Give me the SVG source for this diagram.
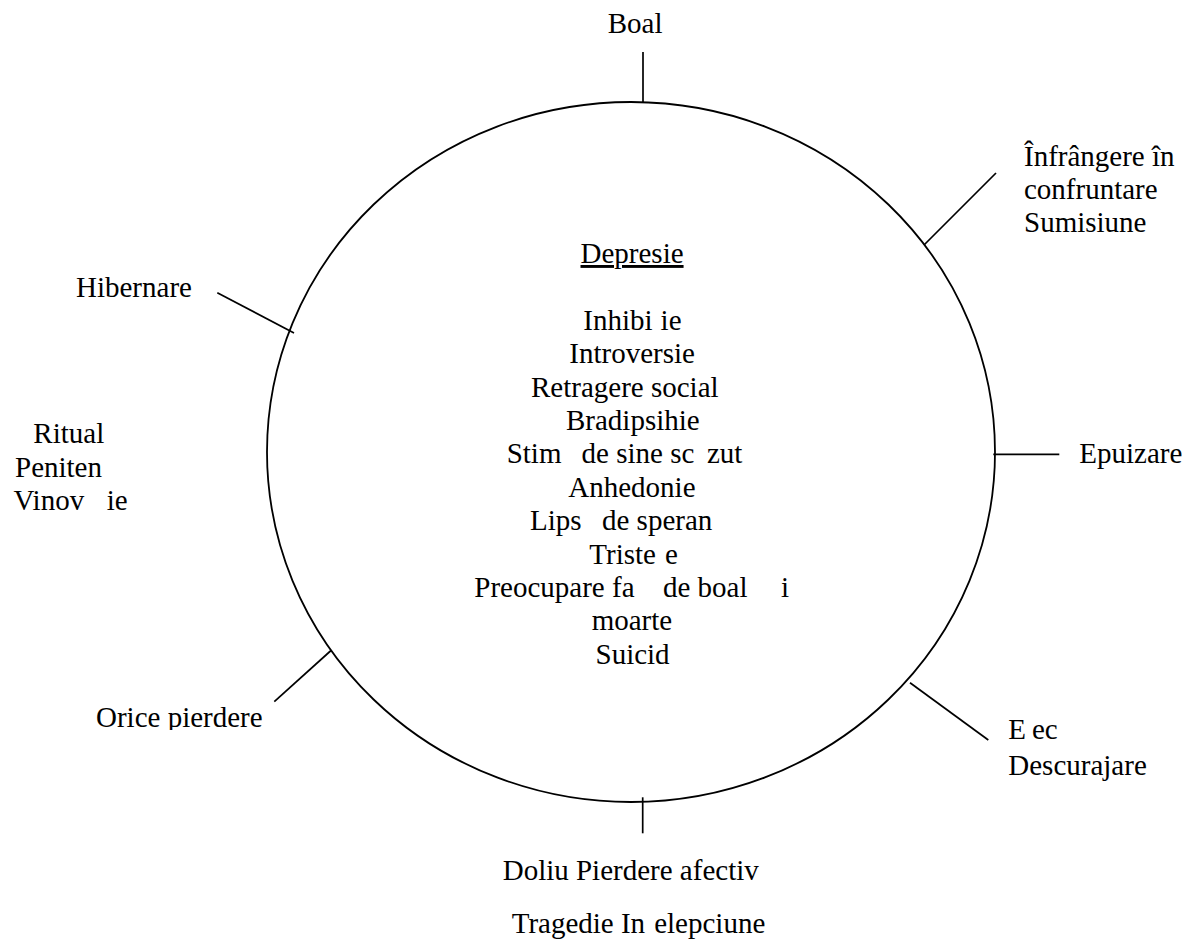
<svg xmlns="http://www.w3.org/2000/svg" width="1198" height="940" viewBox="0 0 1198 940">
  <style>
    .lbl { font-family: 'Liberation Serif', 'Times New Roman', serif; font-size: 29px; fill: #000; }
    .ring { fill: none; stroke: #000; stroke-width: 1.8; }
    .tick { stroke: #000; stroke-width: 1.7; fill: none; }
  </style>
  <defs>
    <clipPath id="clip-orice">
      <rect x="0" y="690" width="400" height="40"/>
    </clipPath>
  </defs>
  <rect width="1198" height="940" fill="#fff"/>

  <!-- central ring with the list of symptoms -->
  <g id="depresie">
    <ellipse class="ring" cx="631" cy="452" rx="364" ry="350"/>
    <text class="lbl" x="580.5" y="263" text-decoration="underline">Depresie</text>
    <text class="lbl" x="583.3" y="330">Inhibi<tspan x="660.6">ie</tspan></text>
    <text class="lbl" x="569.3" y="363.3">Introversie</text>
    <text class="lbl" x="531" y="396.6">Retragere social</text>
    <text class="lbl" x="566" y="430">Bradipsihie</text>
    <text class="lbl" x="506.7" y="463.4">Stim<tspan x="581.6">de sine sc</tspan><tspan x="707">zut</tspan></text>
    <text class="lbl" x="568.3" y="496.8">Anhedonie</text>
    <text class="lbl" x="530" y="530.2">Lips<tspan x="602">de speran</tspan></text>
    <text class="lbl" x="589.3" y="563.6">Triste<tspan x="665">e</tspan></text>
    <text class="lbl" x="474.3" y="597">Preocupare fa<tspan x="663">de boal</tspan><tspan x="781">i</tspan></text>
    <text class="lbl" x="591.7" y="630.4">moarte</text>
    <text class="lbl" x="595.5" y="663.8">Suicid</text>
  </g>

  <!-- spokes from the ring to the outer labels -->
  <g id="connectors">
    <line class="tick" x1="643" y1="52" x2="643" y2="102"/>
    <line class="tick" x1="996" y1="173" x2="924" y2="245"/>
    <line class="tick" x1="217.3" y1="292.7" x2="294" y2="333"/>
    <line class="tick" x1="993.3" y1="454.3" x2="1059.3" y2="454.3"/>
    <line class="tick" x1="274.3" y1="701.7" x2="331" y2="650.5"/>
    <line class="tick" x1="910" y1="682.7" x2="988.3" y2="740"/>
    <line class="tick" x1="642.7" y1="797.3" x2="642.7" y2="833.3"/>
  </g>

  <g id="boala">
    <text class="lbl" x="607.7" y="33.3">Boal</text>
  </g>

  <g id="infrangere">
    <text class="lbl" x="1024" y="166">Înfrângere în</text>
    <text class="lbl" x="1024" y="199">confruntare</text>
    <text class="lbl" x="1024" y="232">Sumisiune</text>
  </g>

  <g id="hibernare">
    <text class="lbl" x="76" y="297.3">Hibernare</text>
  </g>

  <g id="ritual">
    <text class="lbl" x="33.3" y="443.3">Ritual</text>
    <text class="lbl" x="15" y="476.7">Peniten</text>
    <text class="lbl" x="13.4" y="510">Vinov<tspan x="106.8">ie</tspan></text>
  </g>

  <g id="epuizare">
    <text class="lbl" x="1079.3" y="463.3">Epuizare</text>
  </g>

  <g id="orice-pierdere">
    <text class="lbl" x="96" y="726.7" clip-path="url(#clip-orice)">Orice pierdere</text>
  </g>

  <g id="esec">
    <text class="lbl" x="1008.3" y="739.3">E<tspan x="1032">ec</tspan></text>
    <text class="lbl" x="1008.3" y="775">Descurajare</text>
  </g>

  <g id="doliu">
    <text class="lbl" x="502.7" y="880">Doliu Pierdere afectiv</text>
    <text class="lbl" x="511.7" y="933.3">Tragedie In<tspan x="654.2">elepciune</tspan></text>
  </g>
</svg>
